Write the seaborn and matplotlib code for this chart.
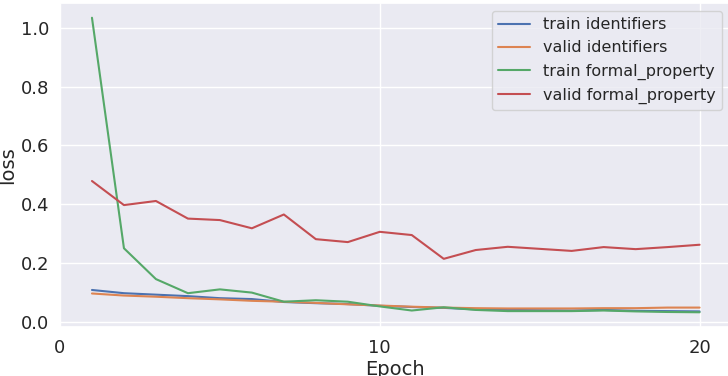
import numpy as np
import pandas as pd
import matplotlib
matplotlib.use('Agg')
import matplotlib.pyplot as plt
import seaborn as sns

epochs = list(range(1, 21))

train_identifiers = [0.108, 0.097, 0.092, 0.087, 0.080, 0.077, 0.067, 0.063, 0.060, 0.054,
                     0.050, 0.047, 0.042, 0.040, 0.039, 0.038, 0.040, 0.037, 0.036, 0.035]
valid_identifiers = [0.096, 0.089, 0.085, 0.080, 0.076, 0.071, 0.068, 0.064, 0.059, 0.055,
                     0.051, 0.048, 0.046, 0.045, 0.045, 0.045, 0.046, 0.046, 0.048, 0.048]
train_formal_property = [1.035, 0.250, 0.145, 0.097, 0.110, 0.099, 0.068, 0.073, 0.068, 0.052,
                         0.038, 0.049, 0.040, 0.036, 0.036, 0.036, 0.038, 0.035, 0.033, 0.032]
valid_formal_property = [0.479, 0.397, 0.411, 0.351, 0.346, 0.318, 0.365, 0.281, 0.271, 0.306,
                         0.295, 0.214, 0.244, 0.255, 0.248, 0.241, 0.254, 0.247, 0.254, 0.262]

series = {
    'train identifiers': train_identifiers,
    'valid identifiers': valid_identifiers,
    'train formal_property': train_formal_property,
    'valid formal_property': valid_formal_property,
}

sns.set_theme(style='darkgrid')
plt.rcParams.update({
    'xtick.labelsize': 13,
    'ytick.labelsize': 13,
    'axes.labelsize': 14,
    'legend.fontsize': 11.5,
})

fig, ax = plt.subplots(figsize=(7.28, 3.76), dpi=100)
for name, vals in series.items():
    sns.lineplot(x=epochs, y=vals, label=name, ax=ax)

ax.set_xlim(left=0)
ax.set_xticks([0, 10, 20])
ax.tick_params(axis='y', pad=1.5)
ax.tick_params(axis='x', pad=2.5)
ax.set_xlabel('Epoch', labelpad=2)
ax.set_ylabel('loss', labelpad=3)
ax.legend(loc='upper right')

fig.subplots_adjust(left=0.0824, right=1.0027, top=0.992, bottom=0.1303)
fig.savefig('out.png', dpi=100)
